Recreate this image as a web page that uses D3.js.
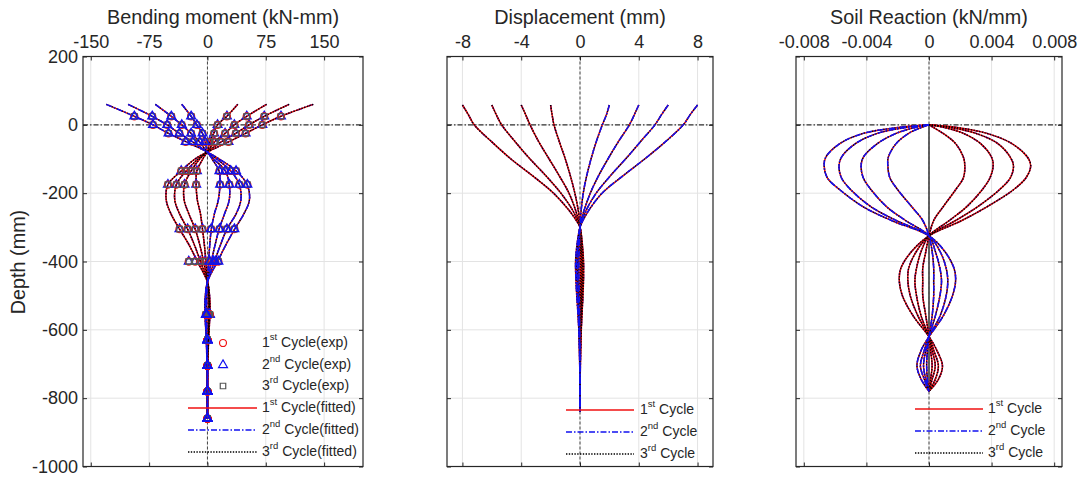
<!DOCTYPE html>
<html>
<head>
<meta charset="utf-8">
<script src="https://cdn.jsdelivr.net/npm/d3@7"></script>
<style>
body { margin: 0; background: #fff; }
text { font-family: "Liberation Sans", Arial, sans-serif; fill: #262626; }
</style>
</head>
<body>
<svg id="chart" width="1081" height="479"></svg>
<script>
// ---- tick values ----
const depthTicks = [200, 0, -200, -400, -600, -800, -1000];
const bmTicks = [-150, -75, 0, 75, 150];
const dispTicks = [-8, -4, 0, 4, 8];
const srTicks = [-0.008, -0.004, 0, 0.004, 0.008];
const srTickLabels = ['-0.008', '-0.004', '0', '0.004', '0.008'];

// ---- bending moment, fitted curves (the 3 cycles overlap at this resolution) ----
const bmFitDepth = [60, 25, 0, -25, -50, -75, -100, -135, -175, -220, -260, -305, -350, -400, -460, -510, -560, -630, -705, -780, -860];
// negative at pile head
const bmFitNeg = [
    [-33, -21, -13.6, -6.4, -3, -0.5, 6, 15, 16, 14, 9, 5, 3, 1.5, 0, -1, -1, -0.5, 0, 0, 0],
    [-67, -46.5, -33, -21, -10, -2, 8, 23, 28, 28, 22, 15, 10, 5, 0, -2, -2, -1, 0, 0, 0],
    [-102, -71, -52, -36, -19, -3, 12, 30, 41, 43, 37, 25, 17, 9, 0, -2.5, -2.5, -1, 0, 0, 0],
    [-130, -94, -70, -50, -27, -4, 15, 37, 51, 54, 47, 35, 24, 13, 0, -3, -3, -1.5, -0.5, 0, 0]
];
// positive at pile head
const bmFitPos = [
    [39, 25, 13, 8, 3, 0.5, -6, -13.6, -14.5, -13, -9, -6.4, -4, -2, 0, 1.5, 1.5, 0.5, 0, 0, 0],
    [76, 50.5, 34.6, 22.7, 9, 1, -10, -20.9, -29.5, -30, -24, -15.8, -10, -5, 0, 2, 2, 1, 0, 0, 0],
    [105, 73, 53.5, 36.4, 17.6, 2, -12, -27.3, -40, -42, -36, -25.6, -17, -9, 0, 2.5, 2.5, 1, 0, 0, 0],
    [136, 94.5, 70.5, 49, 27, 4, -16, -33.7, -50.8, -53, -47, -35.9, -24, -13, 0, 3, 3, 1.5, 0.5, 0, 0]
];

// ---- bending moment, gauge readings ----
const bmExpDepth = [25, 0, -25, -50, -135, -175, -305, -400, -555, -630, -705, -780, -860];
const bmExpNeg = [
    [-21, -13.6, -6.4, -3, 15.4, 16.3, 4.7, 3, -1, 0, 0, 0, 0],
    [-46.5, -33, -21, -10, 22.7, 28.2, 15.4, 7.7, -1, 0, 0, 0, 0],
    [-71, -51.7, -36, -19, 30, 41, 24.9, 10, -1.5, 0, 0, 0, 0],
    [-94, -70, -50, -28, 36.8, 51.3, 34.6, 14, -2, 0, 0, 0, 0]
];
const bmExpPos = [
    [25, 13, 8.6, 3, -13.6, -14.5, -6.4, -3, 2, 0, 0, 0, 0],
    [50.5, 34.6, 22.7, 9, -20.9, -29.5, -15.8, -9.4, 2, 0, 0, 0, 0],
    [73, 53.5, 36.4, 17.6, -27.3, -40, -25.6, -15.8, 3, 0, 0, 0, 0],
    [94.5, 70.5, 49, 27, -33.7, -50.8, -35.9, -24, 3, 0, 0, 0, 0]
];

// ---- displacement ----
const dispDepth = [58, 30, 0, -50, -100, -150, -200, -250, -280, -300, -350, -400, -450, -500, -560, -620, -700, -780, -840];
const dispNeg = [
    [-2, -1.9, -1.77, -1.4, -1.0, -0.65, -0.35, -0.12, -0.03, 0, 0.03, 0.05, 0.05, 0.04, 0.03, 0.01, 0, 0, 0],
    [-4, -3.7, -3.4, -2.8, -2.1, -1.4, -0.75, -0.3, -0.1, 0, 0.07, 0.12, 0.12, 0.1, 0.06, 0.03, 0.01, 0, 0],
    [-6, -5.7, -5.33, -4.4, -3.4, -2.3, -1.3, -0.5, -0.17, 0, 0.12, 0.18, 0.18, 0.15, 0.1, 0.05, 0.02, 0, 0],
    [-8, -7.6, -7.2, -6.0, -4.7, -3.2, -1.8, -0.75, -0.25, 0, 0.16, 0.24, 0.24, 0.2, 0.13, 0.07, 0.03, 0, 0]
];
const dispPos = [
    [2, 1.8, 1.52, 1.1, 0.75, 0.45, 0.22, 0.08, 0.02, 0, -0.04, -0.07, -0.07, -0.05, -0.03, -0.01, 0, 0, 0],
    [4, 3.7, 3.36, 2.6, 1.9, 1.25, 0.7, 0.28, 0.08, 0, -0.1, -0.15, -0.15, -0.11, -0.07, -0.03, -0.01, 0, 0],
    [6, 5.55, 5.1, 4.1, 3.1, 2.05, 1.1, 0.42, 0.13, 0, -0.15, -0.22, -0.22, -0.17, -0.1, -0.05, -0.02, 0, 0],
    [8, 7.5, 7.03, 5.8, 4.4, 2.9, 1.5, 0.6, 0.2, 0, -0.2, -0.3, -0.28, -0.22, -0.13, -0.06, -0.02, 0, 0]
];

// ---- soil reaction ----
const srDepth = [0, -8, -25, -55, -95, -120, -155, -190, -240, -280, -325, -370, -420, -456, -500, -560, -620, -660, -705, -745, -780];
const srNeg = [
    [0, -0.0005, -0.0013, -0.0021, -0.0026, -0.00263, -0.0025, -0.002, -0.0011, -0.0004, 0, 0.0002, 0.0003, 0.0003, 0.0003, 0.0002, 0, -0.0001, -0.00015, -0.0001, 0],
    [0, -0.0009, -0.0021, -0.0033, -0.0042, -0.00434, -0.0042, -0.0037, -0.0027, -0.0015, 0, 0.0004, 0.0007, 0.0008, 0.0007, 0.0004, 0, -0.0002, -0.00035, -0.0002, 0],
    [0, -0.0015, -0.0033, -0.0047, -0.0056, -0.00575, -0.0056, -0.005, -0.0037, -0.0021, 0, 0.0007, 0.0011, 0.0012, 0.0011, 0.0007, 0, -0.0003, -0.00055, -0.0003, 0],
    [0, -0.002, -0.0042, -0.0057, -0.0066, -0.0067, -0.0065, -0.0057, -0.0042, -0.0024, 0, 0.001, 0.0016, 0.0017, 0.0015, 0.0009, 0, -0.0005, -0.00077, -0.0005, 0]
];
const srPos = [
    [0, 0.0003, 0.0009, 0.0017, 0.0022, 0.00229, 0.0022, 0.0017, 0.0009, 0.0003, 0, -0.0002, -0.0004, -0.0004, -0.0004, -0.0002, 0, 0.0001, 0.0002, 0.0001, 0],
    [0, 0.001, 0.0022, 0.0033, 0.004, 0.0041, 0.0039, 0.0034, 0.0024, 0.0013, 0, -0.0005, -0.0008, -0.0009, -0.0008, -0.0005, 0, 0.0002, 0.0004, 0.0002, 0],
    [0, 0.0014, 0.003, 0.0044, 0.0052, 0.0054, 0.0052, 0.0045, 0.0031, 0.0017, 0, -0.0008, -0.0013, -0.00135, -0.0012, -0.0007, 0, 0.0003, 0.0006, 0.0004, 0],
    [0, 0.0018, 0.0037, 0.0053, 0.0063, 0.0065, 0.0062, 0.0054, 0.0037, 0.0021, 0, -0.0011, -0.0018, -0.0019, -0.0017, -0.001, 0, 0.0005, 0.00086, 0.0006, 0]
];

const cycleLabels = ['st', 'nd', 'rd'];

// cycle styles: 1st red solid, 2nd blue dash-dot, 3rd black dotted
const cycleStyle = [
    { color: '#f01010', dash: null, width: 1.5 },
    { color: '#1010f0', dash: '6,2,1.5,2', width: 1.5 },
    { color: '#000000', dash: '1.4,1.4', width: 1.3 }
];

const svg = d3.select('#chart');
svg.append('rect').attr('width', 1081).attr('height', 479).attr('fill', '#fff');

const yscale = d3.scaleLinear().domain([-1000, 200]).range([466.5, 56.5]);

function zip(depths, vals) {
    return depths.map((d, i) => [vals[i], d]);
}

function drawPanel(cfg) {
    let xscale = d3.scaleLinear().domain(cfg.domain).range(cfg.range);
    let g = svg.append('g');
    let top = yscale(200), bottom = yscale(-1000);
    let left = cfg.range[0], right = cfg.range[1];

    // grid
    g.append('g').selectAll('line').data(cfg.ticks).join('line')
        .attr('x1', d => xscale(d)).attr('x2', d => xscale(d))
        .attr('y1', top).attr('y2', bottom)
        .attr('stroke', '#e3e3e3').attr('stroke-width', 1);
    g.append('g').selectAll('line').data(depthTicks).join('line')
        .attr('x1', left).attr('x2', right)
        .attr('y1', d => yscale(d)).attr('y2', d => yscale(d))
        .attr('stroke', '#e3e3e3').attr('stroke-width', 1);

    // zero reference lines
    g.append('line')
        .attr('x1', left).attr('x2', right)
        .attr('y1', yscale(0)).attr('y2', yscale(0))
        .attr('stroke', '#333').attr('stroke-width', 1.2)
        .attr('stroke-dasharray', '5,2,1.5,2');
    g.append('line')
        .attr('x1', xscale(0)).attr('x2', xscale(0))
        .attr('y1', top).attr('y2', bottom)
        .attr('stroke', '#444').attr('stroke-width', 1)
        .attr('stroke-dasharray', '3,2');
    if (cfg.zeroSolid) {
        g.append('line')
            .attr('x1', xscale(0)).attr('x2', xscale(0))
            .attr('y1', yscale(0)).attr('y2', yscale(cfg.zeroSolid))
            .attr('stroke', '#555').attr('stroke-width', 1.8);
    }

    // curves
    let line = d3.line()
        .x(d => xscale(d[0]))
        .y(d => yscale(d[1]))
        .curve(d3.curveCatmullRom.alpha(0.5));

    let curves = g.append('g').attr('fill', 'none');
    cfg.groups.forEach(grp => {
        grp.order.forEach(c => {
            let st = cycleStyle[c];
            grp.vals.forEach(v => {
                curves.append('path')
                    .attr('d', line(zip(grp.depth, v)))
                    .attr('stroke', st.color)
                    .attr('stroke-width', st.width)
                    .attr('stroke-dasharray', st.dash);
            });
        });
    });

    // experimental markers
    if (cfg.markers) {
        let mk = g.append('g').attr('fill', 'none').attr('stroke-width', 1.3);
        cfg.markers.forEach(grp => {
            grp.order.forEach(c => {
                grp.vals.forEach(v => {
                    mk.selectAll(null).data(zip(grp.depth, v)).join('path')
                        .attr('d', markerPath(c))
                        .attr('transform', d => `translate(${xscale(d[0])},${yscale(d[1])})`)
                        .attr('stroke', markerColor[c]);
                });
            });
        });
    }

    // box
    g.append('rect')
        .attr('x', left).attr('y', top)
        .attr('width', right - left).attr('height', bottom - top)
        .attr('fill', 'none').attr('stroke', '#262626').attr('stroke-width', 1.2);

    // axes
    let xTop = d3.axisTop(xscale).tickValues(cfg.ticks).tickSize(-4).tickPadding(8.5)
        .tickFormat((d, i) => cfg.labels ? cfg.labels[i] : d);
    let ax = g.append('g').attr('transform', `translate(0,${top})`).call(xTop);
    ax.select('.domain').remove();
    ax.selectAll('text').attr('font-size', 18);
    ax.selectAll('line').attr('stroke', '#262626');

    let xBot = d3.axisBottom(xscale).tickValues(cfg.ticks).tickSize(-4).tickFormat('');
    let bx = g.append('g').attr('transform', `translate(0,${bottom})`).call(xBot);
    bx.select('.domain').remove();
    bx.selectAll('line').attr('stroke', '#262626');

    let yL = d3.axisLeft(yscale).tickValues(depthTicks).tickSize(-4).tickPadding(5)
        .tickFormat(cfg.yLabels ? d => d : '');
    let ly = g.append('g').attr('transform', `translate(${left},0)`).call(yL);
    ly.select('.domain').remove();
    ly.selectAll('text').attr('font-size', 18);
    ly.selectAll('line').attr('stroke', '#262626');

    let yR = d3.axisRight(yscale).tickValues(depthTicks).tickSize(-4).tickFormat('');
    let ry = g.append('g').attr('transform', `translate(${right},0)`).call(yR);
    ry.select('.domain').remove();
    ry.selectAll('line').attr('stroke', '#262626');

    // title
    g.append('text')
        .attr('x', (left + right) / 2).attr('y', 24)
        .attr('text-anchor', 'middle').attr('font-size', 19.8)
        .text(cfg.title);

    return xscale;
}

const markerColor = ['#f01010', '#1010f0', '#555555'];
function markerPath(c) {
    if (c === 0) return d3.symbol().type(d3.symbolCircle).size(38)();
    if (c === 1) return d3.symbol().type(d3.symbolTriangle).size(34)();
    return d3.symbol().type(d3.symbolSquare).size(30)();
}

function legendText(x, y, idx, rest) {
    let t = svg.append('text').attr('x', x).attr('y', y).attr('font-size', 14)
        .attr('dominant-baseline', 'middle');
    t.append('tspan').text(String(idx + 1));
    t.append('tspan').attr('font-size', 9.5).attr('dy', -6).text(cycleLabels[idx]);
    t.append('tspan').attr('dy', 6).text(' ' + rest);
}

function legendLine(x1, x2, y, c) {
    let st = cycleStyle[c];
    svg.append('line')
        .attr('x1', x1).attr('x2', x2).attr('y1', y).attr('y2', y)
        .attr('stroke', st.color).attr('stroke-width', st.width)
        .attr('stroke-dasharray', st.dash);
}

// ---- panel 1: bending moment ----
drawPanel({
    domain: [-160, 200], range: [83, 363], ticks: bmTicks,
    title: 'Bending moment (kN-mm)', yLabels: true,
    groups: [
        { depth: bmFitDepth, vals: bmFitPos, order: [1, 0, 2] },
        { depth: bmFitDepth, vals: bmFitNeg, order: [0, 2, 1] }
    ],
    markers: [
        { depth: bmExpDepth, vals: bmExpPos, order: [1, 0, 2] },
        { depth: bmExpDepth, vals: bmExpNeg, order: [0, 2, 1] }
    ]
});

// ---- panel 2: displacement ----
drawPanel({
    domain: [-9.05, 9.05], range: [447, 713], ticks: dispTicks,
    title: 'Displacement (mm)', yLabels: false,
    groups: [
        { depth: dispDepth, vals: dispNeg, order: [1, 0, 2] },
        { depth: dispDepth, vals: dispPos, order: [0, 2, 1] }
    ]
});

// ---- panel 3: soil reaction ----
drawPanel({
    domain: [-0.0085, 0.0085], range: [796, 1062], ticks: srTicks, labels: srTickLabels,
    title: 'Soil Reaction (kN/mm)', yLabels: false, zeroSolid: -780,
    groups: [
        { depth: srDepth, vals: srPos, order: [1, 0, 2] },
        { depth: srDepth, vals: srNeg, order: [0, 2, 1] }
    ]
});

// y label
svg.append('text')
    .attr('transform', 'translate(25,262) rotate(-90)')
    .attr('text-anchor', 'middle').attr('font-size', 19.8)
    .text('Depth (mm)');

// ---- legends ----
[343, 365, 386].forEach((y, i) => {
    svg.append('path')
        .attr('d', markerPath(i))
        .attr('transform', `translate(223,${y})`)
        .attr('fill', 'none').attr('stroke', markerColor[i]).attr('stroke-width', 1.2);
    legendText(262, y, i, 'Cycle(exp)');
});
[408, 430, 452].forEach((y, i) => {
    legendLine(188, 257, y, i);
    legendText(262, y, i, 'Cycle(fitted)');
});
[410, 432, 454].forEach((y, i) => {
    legendLine(566, 634, y, i);
    legendText(640, y, i, 'Cycle');
});
[409, 431, 453].forEach((y, i) => {
    legendLine(915, 983, y, i);
    legendText(988, y, i, 'Cycle');
});
</script>
</body>
</html>
